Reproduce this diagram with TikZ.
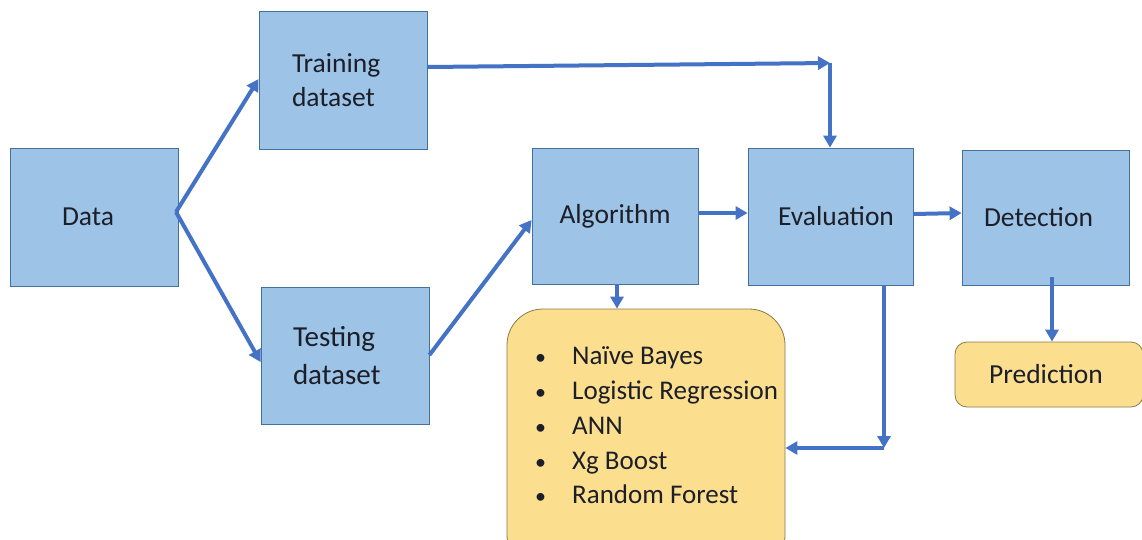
\documentclass[tikz,border=0pt]{standalone}
\usepackage{fontspec}
\setmainfont{Carlito}
\usetikzlibrary{arrows.meta}
\definecolor{boxblue}{HTML}{9DC3E6}
\definecolor{boxedge}{HTML}{41719C}
\definecolor{arrowblue}{HTML}{4472C4}
\definecolor{boxyellow}{HTML}{FCDF8E}
\definecolor{yellowedge}{HTML}{8C7A48}
\definecolor{ink}{HTML}{1C1E28}
\tikzset{
  stage/.style={draw=boxedge, line width=0.8pt, fill=boxblue, inner sep=0pt,
    font=\fontsize{27.5}{34}\selectfont, text=ink},
  note/.style={draw=yellowedge, line width=0.8pt, fill=boxyellow, inner sep=0pt,
    font=\fontsize{27.5}{34}\selectfont, text=ink},
  item/.style={anchor=base west, inner sep=0pt, text=ink,
    font=\fontsize{27}{32}\selectfont},
  flow/.style={draw=arrowblue, line width=4pt,
    -{Triangle[length=12pt,width=13pt]}},
}
\newcommand{\listmark}{\makebox[37pt][l]{\fontsize{22}{22}\selectfont\textbullet}}
\begin{document}
\begin{tikzpicture}[x=1pt,y=-1pt]
\useasboundingbox (0,0) rectangle (1142,539);
\clip (0,0) rectangle (1142,539);
\fill[white] (0,0) rectangle (1142,539);

% main pipeline stages
\node[stage, minimum width=168pt, minimum height=138pt] (data) at (94,217) {\hspace*{-12pt}Data};
\node[stage, minimum width=168pt, minimum height=138pt, align=left,
      text width=102pt] (train) at (343,80) {Training\\dataset};
\node[stage, minimum width=168pt, minimum height=137pt, align=left, text width=104pt,
      font=\fontsize{29}{38}\selectfont] (test) at (345,355.5) {Testing\\dataset};
\node[stage, minimum width=166pt, minimum height=136pt] (algo) at (615,216) {Algorithm};
\node[stage, minimum width=165pt, minimum height=137pt] (eval) at (830.5,216.5) {\hspace*{11pt}Evaluation};
\node[stage, minimum width=167pt, minimum height=135pt] (detect) at (1045.5,217.5) {\hspace*{-14pt}Detection};

% model list and prediction output
\node[note, rounded corners=36pt, minimum width=278pt, minimum height=262pt] (models) at (646,440) {};
\node[item] (m1) at (535,364) {\listmark Naïve Bayes};
\node[item] (m2) at (535,399) {\listmark Logistic Regression};
\node[item] (m3) at (535,434) {\listmark ANN};
\node[item] (m4) at (535,469) {\listmark Xg Boost};
\node[item] (m5) at (535,503) {\listmark Random Forest};
\node[note, rounded corners=12pt, minimum width=188pt, minimum height=65pt] (pred) at (1049,374.5) {\hspace*{-6pt}Prediction};

% connector waypoints
\coordinate (split) at (176,212);
\coordinate (tcorner) at (830,63);
\coordinate (ecorner) at (884,448);

% connectors
\draw[flow] (split) -- (train.west |- 0,79);
\draw[flow] (split) -- (test.west |- 0,362);
\draw[flow] (test.east |- 0,355) -- (algo.west |- 0,220);
\draw[flow] (train.east |- 0,67) -- (tcorner);
\draw[flow] (tcorner) -- (tcorner |- eval.north);
\draw[flow] (algo.east |- 0,213) -- (eval.west |- 0,213);
\draw[flow] (eval.east |- 0,214) -- (detect.west |- 0,213);
\draw[flow] (algo.south -| 617,0) -- (models.north -| 617,0);
\draw[flow] ([yshift=8pt]detect.south -| 1052,0) -- (pred.north -| 1052,0);
\draw[flow] (eval.south -| ecorner) -- (ecorner);
\draw[flow] (ecorner) -- (models.east |- ecorner);
\end{tikzpicture}
\end{document}
